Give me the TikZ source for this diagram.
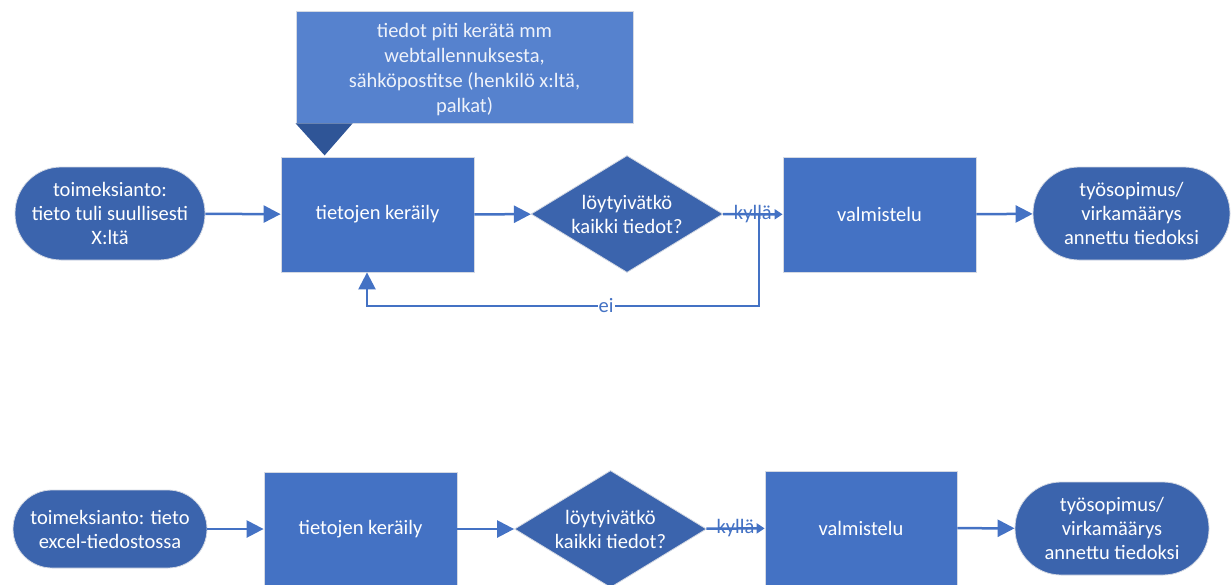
\documentclass[tikz,border=0pt]{standalone}
\usepackage{fontspec}
\setmainfont{Carlito}
\usetikzlibrary{shapes.geometric,arrows.meta}
\definecolor{boxblue}{HTML}{4472C4}
\definecolor{darkblue}{HTML}{3B64AD}
\definecolor{noteblue}{HTML}{5682CE}
\definecolor{tipblue}{HTML}{2F5597}
\definecolor{edgegray}{HTML}{D4D9E3}
\definecolor{notetext}{HTML}{EEF2FA}

\begin{document}
\begin{tikzpicture}[x=1pt,y=-1pt,
  every node/.style={font=\fontsize{20.5}{24}\selectfont, text=white, align=center, inner sep=0pt},
  stepbox/.style={rectangle, fill=boxblue, draw=edgegray, line width=0.8pt},
  term/.style={rectangle, fill=darkblue, draw=edgegray, line width=0.8pt},
  decision/.style={diamond, aspect=1.64, fill=darkblue, draw=edgegray, line width=0.8pt,
                   minimum width=192pt, minimum height=117pt},
  note/.style={rectangle, fill=noteblue, draw=edgegray, line width=0.8pt},
  notetxt/.style={text=notetext, font=\fontsize{20.5}{25}\selectfont},
  conn/.style={draw=boxblue, line width=2.5pt, -{Triangle[length=17pt,width=17pt]}},
  yesconn/.style={draw=boxblue, line width=2.5pt, -{Triangle[length=8pt,width=10pt]}},
  lbl/.style={text=boxblue}
]
\useasboundingbox (0,0) rectangle (1231,584);
\clip (0,0) rectangle (1231,584);

% ---- upper process ----
\node[term, minimum width=190pt, minimum height=93pt, rounded corners=46pt]
  (t1) at (110,213.5) {toimeksianto:\\tieto tuli suullisesti\\X:ltä};
\node[stepbox, minimum width=193pt, minimum height=115pt]
  (b1) at (377.5,214.5) {tietojen keräily};
\node[decision] (d1) at (627,214) {löytyivätkö\\kaikki tiedot?};
\node[stepbox, minimum width=193pt, minimum height=115pt]
  (v1) at (879.5,214.5) {valmistelu};
\node[term, minimum width=197pt, minimum height=93pt, rounded corners=46pt]
  (e1) at (1131.5,213.5) {työsopimus/\\virkamäärys\\annettu tiedoksi};

% callout above the collecting step
\node[note, minimum width=337pt, minimum height=112pt] (n1) at (464.5,67) {};
\node[notetxt] (n1t) at (464.5,69.5)
  {tiedot piti kerätä mm\\webtallennuksesta,\\sähköpostitse (henkilö x:ltä,\\palkat)};
\fill[tipblue] (n1.south west) -- ++(57,0) -- ++(-28,32) -- cycle;

\coordinate (eiA) at (759,306);
\coordinate (eiB) at (367,306);

\draw[conn] (t1) -- (b1);
\draw[conn] (b1) -- (d1);
\draw[yesconn] (d1) -- node[lbl]{kyllä} (v1);
\draw[conn] (v1) -- (e1);
\draw[conn] (d1.east) -| (eiA) -- node[lbl, pos=0.39, fill=white, inner xsep=1pt]{ei} (eiB) -- (eiB |- b1.south);

% ---- lower process ----
\node[term, minimum width=194pt, minimum height=78pt, rounded corners=39pt]
  (t2) at (110,529) {toimeksianto: tieto\\excel-tiedostossa};
\node[stepbox, minimum width=193pt, minimum height=114pt]
  (b2) at (360.5,529) {tietojen keräily};
\node[decision] (d2) at (610.5,529) {löytyivätkö\\kaikki tiedot?};
\node[stepbox, minimum width=192pt, minimum height=114pt]
  (v2) at (861,528) {valmistelu};
\node[term, minimum width=194pt, minimum height=93pt, rounded corners=46pt]
  (e2) at (1112,528.5) {työsopimus/\\virkamäärys\\annettu tiedoksi};

\draw[conn] (t2) -- (b2);
\draw[conn] (b2) -- (d2);
\draw[yesconn] (d2) -- node[lbl]{kyllä} (v2);
\draw[conn] (v2) -- (e2);
\end{tikzpicture}
\end{document}
